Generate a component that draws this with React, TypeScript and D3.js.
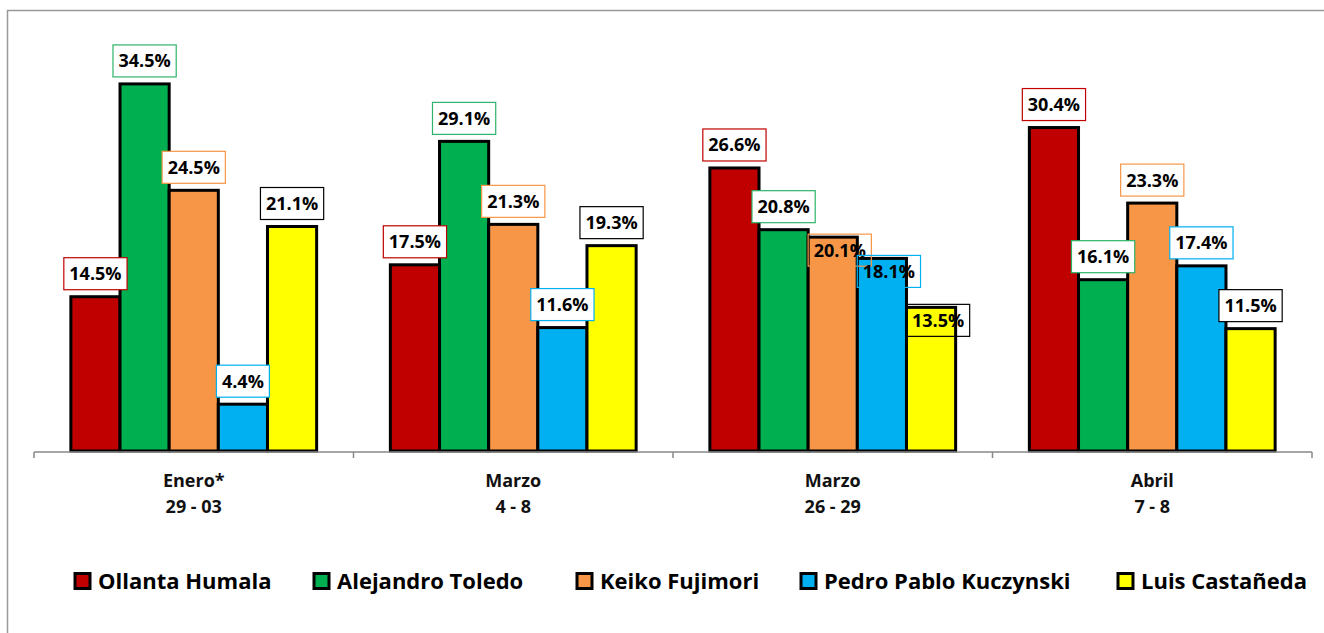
import { useEffect, useRef } from 'react'
import * as d3 from 'd3'

const periods = ['Enero*', 'Marzo', 'Marzo', 'Abril']
const periodDays = ['29 - 03', '4 - 8', '26 - 29', '7 - 8']
const candidates = ['Ollanta Humala', 'Alejandro Toledo', 'Keiko Fujimori', 'Pedro Pablo Kuczynski', 'Luis Castañeda']
const fills = ['#C00000', '#00B050', '#F79646', '#00B0F0', '#FFFF00']
const labelBorders = ['#C00000', '#2EB46A', '#F79646', '#00B0F0', '#000000']

const humala = [14.5, 17.5, 26.6, 30.4]
const toledo = [34.5, 29.1, 20.8, 16.1]
const fujimori = [24.5, 21.3, 20.1, 23.3]
const kuczynski = [4.4, 11.6, 18.1, 17.4]
const castaneda = [21.1, 19.3, 13.5, 11.5]
const series = [humala, toledo, fujimori, kuczynski, castaneda]

// labels that sit over the bar top in the crowded third group: [period, candidate]
const insideLabels = [[2, 2], [2, 3], [2, 4]]

const legendX = [73, 312, 575, 799, 1116]

export default function App() {
  const svgRef = useRef<SVGSVGElement>(null)

  useEffect(() => {
    if (!svgRef.current) return
    const svg = d3.select(svgRef.current)
    svg.selectAll('*').remove()

    const font = '"Open Sans", Lato, sans-serif'
    const baseY = 451

    // frame
    svg.append('rect')
      .attr('x', 7.5).attr('y', 10.5)
      .attr('width', 1400).attr('height', 700)
      .attr('fill', 'white')
      .attr('stroke', '#999').attr('stroke-width', 1.5)

    const x0 = d3.scaleBand<number>()
      .domain(d3.range(periods.length))
      .range([34, 1312])
      .paddingInner(0).paddingOuter(0)

    const x1 = d3.scaleBand<number>()
      .domain(d3.range(candidates.length))
      .range([0, x0.bandwidth()])
      .paddingInner(0).paddingOuter(0.75)

    const y = d3.scaleLinear().domain([0, 35]).range([baseY, baseY - 372.4])

    const rows = periods.flatMap((p, i) =>
      candidates.map((c, j) => ({ i, j, v: series[j][i] })))

    // bars
    svg.append('g').selectAll('rect')
      .data(rows)
      .enter()
      .append('rect')
      .attr('x', (d) => (x0(d.i) || 0) + (x1(d.j) || 0))
      .attr('y', (d) => y(d.v))
      .attr('width', x1.bandwidth())
      .attr('height', (d) => baseY - y(d.v))
      .attr('fill', (d) => fills[d.j])
      .attr('stroke', '#000')
      .attr('stroke-width', 3)

    // axis
    const ax = svg.append('g')
    ax.append('line')
      .attr('x1', 34).attr('x2', 1312)
      .attr('y1', baseY + 1).attr('y2', baseY + 1)
      .attr('stroke', '#888').attr('stroke-width', 1.5)
    ax.selectAll('.tick')
      .data(d3.range(periods.length + 1))
      .enter()
      .append('line')
      .attr('x1', (d) => 34 + d * x0.step())
      .attr('x2', (d) => 34 + d * x0.step())
      .attr('y1', baseY + 1).attr('y2', baseY + 7)
      .attr('stroke', '#888').attr('stroke-width', 1.5)

    const cat = ax.selectAll('.cat')
      .data(periods)
      .enter()
      .append('text')
      .attr('x', (d, i) => (x0(i) || 0) + x0.bandwidth() / 2)
      .attr('y', 487)
      .attr('text-anchor', 'middle')
      .attr('font-family', font)
      .attr('font-weight', 'bold')
      .attr('font-size', '18px')
      .attr('fill', '#111')
    cat.append('tspan').text((d) => d)
    cat.append('tspan')
      .attr('x', (d, i) => (x0(i) || 0) + x0.bandwidth() / 2)
      .attr('dy', 26)
      .text((d, i) => periodDays[i])

    // data labels
    const labels = svg.append('g')
    rows.forEach((d) => {
      const inside = insideLabels.some(([a, b]) => a === d.i && b === d.j)
      const cx = (x0(d.i) || 0) + (x1(d.j) || 0) + x1.bandwidth() / 2 + (inside ? 7 : 0)
      const top = inside ? y(d.v) - 3 : y(d.v) - 39
      const g = labels.append('g')
      const rect = g.append('rect')
      const t = g.append('text')
        .attr('x', cx)
        .attr('y', top + 16)
        .attr('dy', '0.36em')
        .attr('text-anchor', 'middle')
        .attr('font-family', font)
        .attr('font-weight', 'bold')
        .attr('font-size', '18px')
        .attr('fill', '#000')
        .text(`${d.v.toFixed(1)}%`)
      const w = (t.node() as SVGTextElement).getComputedTextLength() + 11
      rect.attr('x', cx - w / 2).attr('y', top)
        .attr('width', w).attr('height', 32)
        .attr('fill', inside ? 'none' : 'white')
        .attr('stroke', labelBorders[d.j])
        .attr('stroke-width', 1.2)
    })

    // legend
    const lg = svg.append('g').selectAll('g')
      .data(candidates)
      .enter()
      .append('g')
      .attr('transform', (d, i) => `translate(${legendX[i]},581)`)
    lg.append('rect')
      .attr('x', 2).attr('y', -7.5)
      .attr('width', 15).attr('height', 15)
      .attr('fill', (d, i) => fills[i])
      .attr('stroke', '#000').attr('stroke-width', 3)
    lg.append('text')
      .attr('x', 25)
      .attr('dy', '0.36em')
      .attr('font-family', font)
      .attr('font-weight', 'bold')
      .attr('font-size', '22px')
      .attr('fill', '#000')
      .text((d) => d)
  }, [])

  return (
    <svg
      ref={svgRef}
      width={1324}
      height={633}
      style={{ position: 'absolute', left: 0, top: 0, display: 'block' }}
    />
  )
}
